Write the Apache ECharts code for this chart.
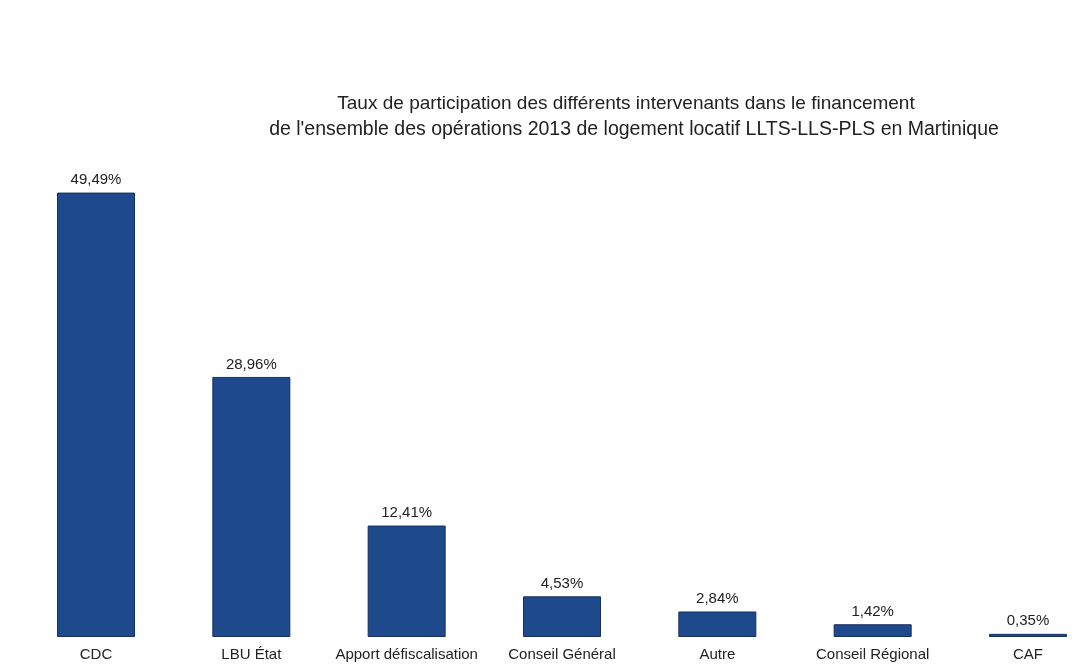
<!DOCTYPE html>
<html>
<head>
<meta charset="utf-8">
<script src="https://cdn.jsdelivr.net/npm/echarts@6/dist/echarts.min.js"></script>
<style>
  html, body { margin: 0; padding: 0; background: #fff; }
  #chart { width: 1078px; height: 672px; }
</style>
</head>
<body>
<div id="chart"></div>
<script>
const categories = ['CDC', 'LBU État', 'Apport défiscalisation', 'Conseil Général', 'Autre', 'Conseil Régional', 'CAF'];
const rates = [49.49, 28.96, 12.41, 4.53, 2.84, 1.42, 0.35];
const titleLines = [
    'Taux de participation des différents intervenants dans le financement',
    "de l'ensemble des opérations 2013 de logement locatif LLTS-LLS-PLS en Martinique"
];

let dom = document.getElementById('chart');
let myChart = echarts.init(dom, null, { renderer: 'canvas' });

// the two title lines are not centred on the same x in the original
const titleX = [626, 634];
const titleSize = [19, 19.5];

let option = {
    animation: false,
    backgroundColor: '#ffffff',
    graphic: titleLines.map((line, i) => ({
        type: 'text',
        x: titleX[i],
        y: 104 + i * 26,
        style: {
            text: line,
            textAlign: 'center',
            textVerticalAlign: 'middle',
            font: titleSize[i] + 'px "Liberation Sans", Arial, sans-serif',
            fill: '#222'
        }
    })),
    // boundaryGap off so the first and last bars sit on the grid edges
    grid: { left: 96, right: 50, top: 188, bottom: 35 },
    xAxis: {
        type: 'category',
        data: categories,
        boundaryGap: false,
        axisLine: { show: false },
        axisTick: { show: false },
        axisLabel: {
            color: '#222',
            fontSize: 15,
            fontFamily: '"Liberation Sans", Arial, sans-serif',
            margin: 10,
            interval: 0
        }
    },
    yAxis: {
        type: 'value',
        min: 0,
        max: 50,
        show: false
    },
    series: [
        {
            type: 'bar',
            data: rates,
            barWidth: 78,
            itemStyle: {
                color: '#1e4a8d',
                borderColor: '#15305f',
                borderWidth: 1
            },
            label: {
                show: true,
                position: 'top',
                distance: 5,
                color: '#222',
                fontSize: 15,
                fontFamily: '"Liberation Sans", Arial, sans-serif',
                formatter: (p) => p.value.toFixed(2).replace('.', ',') + '%'
            }
        }
    ]
};

myChart.setOption(option);
</script>
</body>
</html>
